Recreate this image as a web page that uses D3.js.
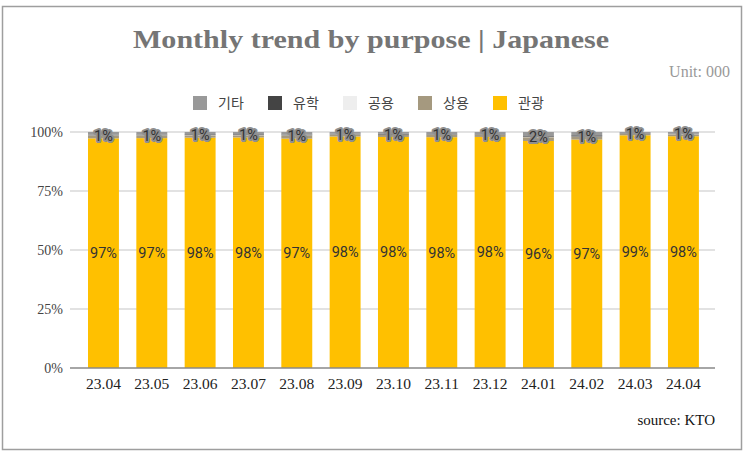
<!DOCTYPE html>
<html><head><meta charset="utf-8">
<script src="https://cdn.jsdelivr.net/npm/d3@7"></script>
<style>
body{margin:0;background:#fff;}
svg{display:block;}
</style></head>
<body>
<svg id="chart" width="744" height="458"></svg>
<script>
const months = ["23.04","23.05","23.06","23.07","23.08","23.09","23.10","23.11","23.12","24.01","24.02","24.03","24.04"];
const seriesNames = ["관광","상용","공용","유학","기타"];
const tourism  = [97.3,97.4,97.6,97.7,97.2,98.1,97.9,97.8,97.9,96.2,96.8,98.6,98.2];
const business = [1.2,1.1,1.0,0.9,1.3,0.8,0.9,1.0,0.9,1.6,1.2,0.7,0.8];
const official = [0.1,0.1,0.1,0.1,0.1,0.1,0.1,0.1,0.1,0.1,0.1,0.1,0.1];
const study    = [0.3,0.3,0.3,0.3,0.3,0.3,0.3,0.2,0.2,0.3,0.5,0.2,0.2];
const other    = [1.1,1.1,1.0,1.0,1.1,0.7,0.8,0.9,0.9,1.8,1.4,0.4,0.7];
const yTicks = [0,25,50,75,100];
const colors = {"관광":"#ffc000","상용":"#a5997f","공용":"#eeeeee","유학":"#444444","기타":"#999999"};
const legendOrder = ["기타","유학","공용","상용","관광"];

const rows = months.map((m,i)=>({month:m,"관광":tourism[i],"상용":business[i],"공용":official[i],"유학":study[i],"기타":other[i]}));
const stack = d3.stack().keys(seriesNames).offset(d3.stackOffsetExpand);
const layers = stack(rows);

const svg = d3.select("#chart");
svg.append("rect").attr("x",2.5).attr("y",6.5).attr("width",739).attr("height",443)
  .attr("fill","#fff").attr("stroke","#9e9e9e").attr("stroke-width",1.5);

svg.append("text").attr("x",371).attr("y",48).attr("text-anchor","middle")
  .attr("font-family","Georgia, 'Liberation Serif', serif").attr("font-weight","bold")
  .attr("font-size",25).attr("fill","#757575")
  .attr("textLength",476).attr("lengthAdjust","spacingAndGlyphs")
  .text("Monthly trend by purpose | Japanese");
svg.append("text").attr("x",730).attr("y",77).attr("text-anchor","end")
  .attr("font-family","Georgia, 'Liberation Serif', serif").attr("font-size",16).attr("fill","#999")
  .text("Unit: 000");

const x = d3.scaleBand().domain(months).range([79.3,707.6]).paddingInner(0.36).paddingOuter(0.18);
const y = d3.scaleLinear().domain([0,1]).range([368,132]);

// grid
svg.append("g").selectAll("line").data(yTicks.slice(1)).join("line")
  .attr("x1",70).attr("x2",715).attr("y1",d=>y(d/100)).attr("y2",d=>y(d/100))
  .attr("stroke","#d9d9d9").attr("stroke-width",1.5);

// y tick labels
svg.append("g").selectAll("text").data(yTicks).join("text")
  .attr("x",63).attr("y",d=>y(d/100)+5).attr("text-anchor","end")
  .attr("font-family","Georgia, 'Liberation Serif', serif").attr("font-size",14).attr("fill","#444")
  .text(d=>d+"%");

// bars
const g = svg.append("g");
layers.forEach(layer=>{
  g.append("g").selectAll("rect").data(layer).join("rect")
    .attr("x",d=>x(d.data.month)).attr("width",x.bandwidth())
    .attr("y",d=>y(d[1])).attr("height",d=>y(d[0])-y(d[1]))
    .attr("fill",colors[layer.key]);
});

// axis line
svg.append("line").attr("x1",70).attr("x2",715).attr("y1",368).attr("y2",368)
  .attr("stroke","#888").attr("stroke-width",1.5);

// x labels
svg.append("g").selectAll("text").data(months).join("text")
  .attr("x",d=>x(d)+x.bandwidth()/2).attr("y",389).attr("text-anchor","middle")
  .attr("font-family","Georgia, 'Liberation Serif', serif").attr("font-size",15.5).attr("fill","#222")
  .text(d=>d);

// main segment labels (관광)
const mainLayer = layers.find(l=>l.key==="관광");
svg.append("g").selectAll("text").data(mainLayer).join("text")
  .attr("x",d=>x(d.data.month)+x.bandwidth()/2)
  .attr("y",d=>y((d[0]+d[1])/2)+5)
  .attr("text-anchor","middle")
  .attr("font-family","Roboto, 'Noto Sans', sans-serif").attr("font-size",14.5)
  .attr("fill","#333")
  .text(d=>Math.round((d[1]-d[0])*100)+"%");

// small segment labels (상용) drawn with halo at top of bar
const bizLayer = layers.find(l=>l.key==="상용");
svg.append("g").selectAll("text").data(bizLayer).join("text")
  .attr("x",d=>x(d.data.month)+x.bandwidth()/2)
  .attr("y",d=>y(d[1])+5)
  .attr("text-anchor","middle")
  .attr("font-family","Roboto, 'Noto Sans', sans-serif").attr("font-size",14.5)
  .attr("fill","#333")
  .attr("stroke","#8f8f8f").attr("stroke-width",4).attr("stroke-linejoin","round")
  .attr("paint-order","stroke")
  .text(d=>Math.round((d[1]-d[0])*100)+"%");

// legend
const leg = svg.append("g");
const legX = [193,268,343,418,493];
legendOrder.forEach((k,i)=>{
  leg.append("rect").attr("x",legX[i]).attr("y",96).attr("width",14).attr("height",14).attr("fill",colors[k]);
  leg.append("text").attr("x",legX[i]+25).attr("y",108)
    .attr("font-family","'Noto Sans CJK KR', sans-serif").attr("font-size",14).attr("fill","#444").text(k);
});

svg.append("text").attr("x",715).attr("y",425).attr("text-anchor","end")
  .attr("font-family","Georgia, 'Liberation Serif', serif").attr("font-size",15).attr("fill","#111")
  .text("source: KTO");
</script>
</body></html>
